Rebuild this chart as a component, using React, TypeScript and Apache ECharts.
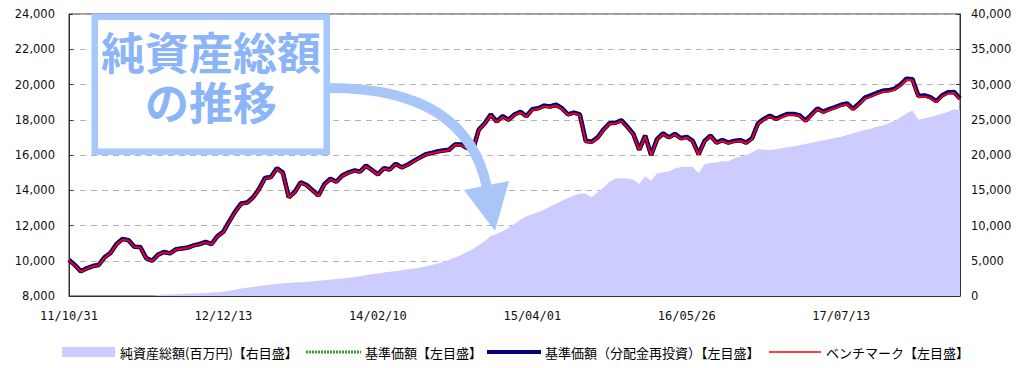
import React, { useEffect, useRef } from "react";
import * as echarts from "echarts";

const tickLabels = ["11/10/31", "12/12/13", "14/02/10", "15/04/01", "16/05/26", "17/07/13"];
const STEPS_PER_TICK = 26;
const POINT_COUNT = 151;

// 基準価額(分配金再投資)
const navReinvested = [
  10050, 9750, 9400, 9570, 9700, 9760, 10200, 10450, 10950, 11230,
  11170, 10800, 10780, 10150, 10000, 10350, 10500, 10420, 10650, 10700,
  10750, 10870, 10950, 11070, 10950, 11400, 11650, 12250, 12800, 13250,
  13300, 13600, 14080, 14700, 14750, 15250, 15000, 13600, 13900, 14450,
  14300, 14000, 13700, 14350, 14650, 14480, 14830, 15000, 15120, 15060,
  15400, 15150, 14900, 15250, 15180, 15500, 15300, 15450, 15650, 15850,
  16030, 16110, 16200, 16250, 16300, 16600, 16600, 16400, 16300, 17450,
  17800, 18300, 17900, 18200, 18000, 18300, 18450, 18200, 18600, 18650,
  18800, 18750, 18850, 18650, 18300, 18400, 18300, 16800, 16750, 17000,
  17450, 17800, 17830, 17970, 17600, 17200, 16300, 17100, 16000, 16900,
  17220, 17000, 17200, 16950, 17030, 16800, 16050, 16800, 17100, 16700,
  16840, 16700, 16800, 16840, 16700, 16950, 17800, 18050, 18230, 18050,
  18200, 18330, 18330, 18250, 17950, 18300, 18640, 18460, 18600, 18720,
  18850, 18920, 18620, 18920, 19250, 19380, 19520, 19640, 19670, 19770,
  20000, 20330, 20300, 19350, 19380, 19280, 19050, 19390, 19560, 19580,
  19200,
];

// 基準価額 – no distributions, so it coincides with the reinvested line
const basePrice = navReinvested;

// ベンチマーク
const benchmark = [
  10020, 9720, 9380, 9550, 9680, 9740, 10170, 10430, 10920, 11200,
  11150, 10780, 10760, 10130, 9980, 10330, 10480, 10400, 10630, 10680,
  10730, 10850, 10930, 11050, 10930, 11380, 11620, 12220, 12770, 13220,
  13270, 13570, 14050, 14660, 14720, 15210, 14960, 13570, 13870, 14420,
  14270, 13970, 13670, 14320, 14620, 14450, 14800, 14970, 15090, 15030,
  15370, 15120, 14870, 15220, 15150, 15470, 15270, 15420, 15620, 15820,
  16000, 16080, 16170, 16220, 16270, 16570, 16570, 16370, 16270, 17420,
  17770, 18260, 17860, 18160, 17960, 18260, 18410, 18160, 18560, 18610,
  18760, 18710, 18810, 18610, 18260, 18360, 18260, 16760, 16710, 16960,
  17410, 17760, 17790, 17930, 17560, 17160, 16260, 17060, 15960, 16860,
  17180, 16960, 17160, 16910, 16990, 16760, 16010, 16760, 17060, 16660,
  16800, 16660, 16760, 16800, 16660, 16910, 17760, 18000, 18180, 18000,
  18150, 18280, 18280, 18200, 17900, 18250, 18590, 18410, 18550, 18670,
  18800, 18870, 18570, 18870, 19190, 19320, 19460, 19580, 19610, 19710,
  19940, 20270, 20240, 19290, 19320, 19220, 18990, 19330, 19500, 19520,
  19140,
];

// 純資産総額(百万円)
const netAssets = [
  0, 0, 0, 0, 0, 0, 0, 0, 0, 0,
  0, 0, 0, 0, 0, 150, 200, 230, 260, 290,
  320, 350, 380, 420, 480, 540, 600, 750, 900, 1050,
  1180, 1300, 1420, 1530, 1620, 1700, 1800, 1850, 1900, 1950,
  2000, 2080, 2150, 2230, 2320, 2400, 2500, 2580, 2680, 2800,
  2950, 3080, 3200, 3320, 3440, 3560, 3670, 3780, 3900, 4010,
  4200, 4400, 4600, 4800, 5150, 5450, 5800, 6250, 6650, 7200,
  7800, 8500, 8800, 9200, 9700, 10200, 10800, 11300, 11600, 11900,
  12250, 12700, 13100, 13500, 13900, 14250, 14550, 14500, 14000, 14700,
  15400, 16200, 16650, 16700, 16650, 16500, 15900, 17000, 16300, 17400,
  17550, 17700, 18100, 18300, 18350, 18300, 17400, 18700, 18850, 18950,
  19100, 19100, 19550, 19750, 20000, 20350, 20850, 20750, 20700, 20800,
  20950, 21100, 21250, 21400, 21550, 21750, 21900, 22100, 22250, 22450,
  22600, 22850, 23100, 23350, 23550, 23750, 24000, 24200, 24500, 24850,
  25350, 25900, 26300, 25000, 25200, 25400, 25650, 25850, 26150, 26500,
  26350,
];

const seriesNames = [
  "純資産総額(百万円)【右目盛】",
  "基準価額【左目盛】",
  "基準価額（分配金再投資）【左目盛】",
  "ベンチマーク【左目盛】",
];

const AREA_COLOR = "#ccccff";
const GREEN = "#3a9a3a";
const NAVY = "#000080";
const RED = "#ff0000";

function labelToTime(label: string): number {
  const [yy, mm, dd] = label.split("/").map(Number);
  return Date.UTC(2000 + yy, mm - 1, dd);
}

function formatDate(t: number): string {
  const d = new Date(t);
  const p = (n: number) => String(n).padStart(2, "0");
  return `${p(d.getUTCFullYear() % 100)}/${p(d.getUTCMonth() + 1)}/${p(d.getUTCDate())}`;
}

function buildCategories(): string[] {
  const times = tickLabels.map(labelToTime);
  const out: string[] = [];
  for (let i = 0; i < POINT_COUNT; i++) {
    const seg = Math.min(Math.floor(i / STEPS_PER_TICK), times.length - 1);
    const k = i - seg * STEPS_PER_TICK;
    if (k === 0) {
      out.push(tickLabels[seg]);
      continue;
    }
    const span =
      seg < times.length - 1 ? times[seg + 1] - times[seg] : times[seg] - times[seg - 1];
    out.push(formatDate(times[seg] + (k * span) / STEPS_PER_TICK));
  }
  return out;
}

const categories = buildCategories();

const BOX_BLUE = "#a6c8fa";
const TEXT_BLUE = "#8cb4f8";
const ARROW_BLUE = "#a8c6f8";
const CJK = '"Noto Sans CJK JP", "Noto Sans", sans-serif';

export default function App() {
  const ref = useRef<HTMLDivElement>(null);

  useEffect(() => {
    if (!ref.current) return;
    const chart = echarts.init(ref.current, undefined, { renderer: "svg" });
    const numFmt = (v: number) => v.toLocaleString("en-US");

    const LEG_Y = 352;
    const legendText = (x: number, text: string) => ({
      type: "text",
      z: 110,
      x,
      y: LEG_Y,
      style: {
        text,
        fill: "#000",
        font: `13px ${CJK}`,
        textAlign: "left",
        textVerticalAlign: "middle",
      },
    });

    chart.setOption({
      animation: false,
      backgroundColor: "#ffffff",
      grid: {
        left: 69,
        right: 64,
        top: 14,
        bottom: 72,
        show: true,
        borderColor: "#333333",
        borderWidth: 1,
        backgroundColor: "transparent",
      },
      xAxis: {
        type: "category",
        data: categories,
        boundaryGap: false,
        axisLine: { lineStyle: { color: "#333333" } },
        axisTick: { inside: true, length: 4, interval: STEPS_PER_TICK - 1, lineStyle: { color: "#333" } },
        axisLabel: {
          interval: STEPS_PER_TICK - 1,
          margin: 14,
          fontSize: 12,
          color: "#111",
          fontFamily: '"DejaVu Sans Mono", monospace',
        },
        splitLine: { show: false },
      },
      yAxis: [
        {
          type: "value",
          min: 8000,
          max: 24000,
          interval: 2000,
          axisLine: { show: true, lineStyle: { color: "#333333" } },
          axisTick: { show: true, inside: true, length: 4, lineStyle: { color: "#333" } },
          axisLabel: {
            formatter: numFmt,
            margin: 14,
            fontSize: 11.5,
            color: "#111",
            fontFamily: '"DejaVu Sans", sans-serif',
          },
          splitLine: { show: true, lineStyle: { color: "#b4b4b4", type: [6, 5], width: 1 } },
        },
        {
          type: "value",
          min: 0,
          max: 40000,
          interval: 5000,
          position: "right",
          axisLine: { show: true, lineStyle: { color: "#333333" } },
          axisTick: { show: true, inside: true, length: 4, lineStyle: { color: "#333" } },
          axisLabel: {
            formatter: numFmt,
            margin: 11,
            fontSize: 11.5,
            color: "#111",
            fontFamily: '"DejaVu Sans", sans-serif',
          },
          splitLine: { show: false },
        },
      ],
      series: [
        {
          name: seriesNames[0],
          type: "line",
          yAxisIndex: 1,
          data: netAssets,
          symbol: "none",
          lineStyle: { width: 0, color: AREA_COLOR },
          itemStyle: { color: AREA_COLOR },
          areaStyle: { color: AREA_COLOR, opacity: 1 },
          z: 1,
        },
        {
          name: seriesNames[1],
          type: "line",
          data: basePrice,
          symbol: "none",
          lineStyle: { width: 4, color: GREEN },
          itemStyle: { color: GREEN },
          z: 2,
        },
        {
          name: seriesNames[2],
          type: "line",
          data: navReinvested,
          symbol: "none",
          lineStyle: { width: 4.5, color: NAVY },
          itemStyle: { color: NAVY },
          z: 3,
        },
        {
          name: seriesNames[3],
          type: "line",
          data: benchmark,
          symbol: "none",
          lineStyle: { width: 1.8, color: RED },
          itemStyle: { color: RED },
          z: 4,
        },
      ],
      graphic: [
        {
          type: "rect",
          z: 100,
          shape: { x: 94.75, y: 16.75, width: 232, height: 135 },
          style: { fill: "#ffffff", stroke: BOX_BLUE, lineWidth: 6.5 },
        },
        {
          type: "text",
          z: 101,
          x: 211,
          y: 76,
          style: {
            text: "純資産総額\nの推移",
            fill: TEXT_BLUE,
            font: `bold 44px ${CJK}`,
            lineHeight: 50,
            textAlign: "center",
            textVerticalAlign: "middle",
          },
        },
        {
          type: "bezierCurve",
          z: 102,
          shape: { x1: 330, y1: 88, x2: 487, y2: 188, cpx1: 467, cpy1: 88 },
          style: { stroke: ARROW_BLUE, lineWidth: 10, fill: null },
        },
        {
          type: "polygon",
          z: 102,
          shape: { points: [[464, 190], [509, 181], [495, 231]] },
          style: { fill: ARROW_BLUE },
        },
        // legend
        {
          type: "rect",
          z: 110,
          shape: { x: 62, y: 347, width: 53, height: 10 },
          style: { fill: AREA_COLOR },
        },
        legendText(120, seriesNames[0]),
        {
          type: "line",
          z: 110,
          shape: { x1: 306, y1: LEG_Y, x2: 361, y2: LEG_Y },
          style: { stroke: GREEN, lineWidth: 3, lineDash: [2, 1] },
        },
        legendText(365, seriesNames[1]),
        {
          type: "line",
          z: 110,
          shape: { x1: 487, y1: LEG_Y, x2: 541, y2: LEG_Y },
          style: { stroke: NAVY, lineWidth: 4 },
        },
        legendText(545, seriesNames[2]),
        {
          type: "line",
          z: 110,
          shape: { x1: 769, y1: LEG_Y, x2: 821, y2: LEG_Y },
          style: { stroke: RED, lineWidth: 1.5 },
        },
        legendText(826, seriesNames[3]),
      ],
    });

    return () => chart.dispose();
  }, []);

  return (
    <div
      ref={ref}
      style={{ position: "fixed", left: 0, top: 0, width: 1024, height: 368 }}
    />
  );
}
